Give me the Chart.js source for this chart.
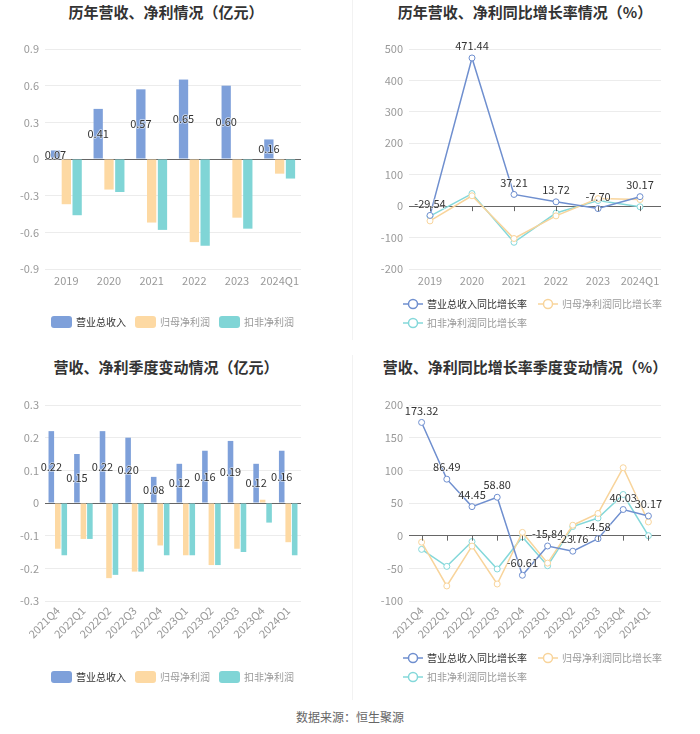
<!DOCTYPE html>
<html>
<head>
<meta charset="utf-8">
<script src="https://cdn.jsdelivr.net/npm/chart.js@4.4.1/dist/chart.umd.min.js"></script>
<style>
  body { margin: 0; background: #fff; font-family: "Noto Sans CJK SC", "Noto Sans", sans-serif; }
  #page { position: relative; width: 700px; height: 734px; overflow: hidden; }
  .title { position: absolute; font-size: 15px; font-weight: bold; color: #333; text-align: center; line-height: 20px; }
  .box { position: absolute; }
  .divider { position: absolute; left: 352px; width: 1px; background: #f2f2f2; }
  #source { position: absolute; left: 0; width: 700px; top: 708px; text-align: center; font-size: 12px; color: #666; }
</style>
</head>
<body>
<div id="page">
  <div class="divider" style="top:0;height:340px"></div>
  <div class="divider" style="top:355px;height:345px"></div>

  <div class="title" style="left:0;width:332px;top:2px">历年营收、净利情况（亿元）</div>
  <div class="title" style="left:350px;width:350px;top:2px">历年营收、净利同比增长率情况（%）</div>
  <div class="title" style="left:0;width:332px;top:357px">营收、净利季度变动情况（亿元）</div>
  <div class="title" style="left:350px;width:350px;top:357px">营收、净利同比增长率季度变动情况（%）</div>

  <div class="box" style="left:0;top:30px;width:345px;height:310px"><canvas id="yearBar"></canvas></div>
  <div class="box" style="left:350px;top:30px;width:350px;height:310px"><canvas id="yearLine"></canvas></div>
  <div class="box" style="left:0;top:390px;width:345px;height:310px"><canvas id="quarterBar"></canvas></div>
  <div class="box" style="left:350px;top:390px;width:350px;height:310px"><canvas id="quarterLine"></canvas></div>

  <div id="source">数据来源：恒生聚源</div>
</div>

<script>
// annual values (亿元)
const yearLabels = ['2019', '2020', '2021', '2022', '2023', '2024Q1'];
const yearRevenue = [0.07, 0.41, 0.57, 0.65, 0.60, 0.16];
const yearNetProfit = [-0.37, -0.25, -0.52, -0.68, -0.48, -0.12];
const yearDeductedProfit = [-0.46, -0.27, -0.58, -0.71, -0.57, -0.16];

// annual growth (%)
const yearRevenueGrowth = [-29.54, 471.44, 37.21, 13.72, -7.70, 30.17];
const yearNetProfitGrowth = [-47, 33, -103, -31, 24, 21];
const yearDeductedGrowth = [-32, 40, -115, -22, 18, -2];

// quarterly values (亿元)
const quarterLabels = ['2021Q4', '2022Q1', '2022Q2', '2022Q3', '2022Q4', '2023Q1', '2023Q2', '2023Q3', '2023Q4', '2024Q1'];
const quarterRevenue = [0.22, 0.15, 0.22, 0.20, 0.08, 0.12, 0.16, 0.19, 0.12, 0.16];
const quarterNetProfit = [-0.14, -0.11, -0.23, -0.21, -0.13, -0.16, -0.19, -0.14, 0.01, -0.12];
const quarterDeductedProfit = [-0.16, -0.11, -0.22, -0.21, -0.16, -0.16, -0.19, -0.15, -0.06, -0.16];

// quarterly growth (%)
const quarterRevenueGrowth = [173.32, 86.49, 44.45, 58.80, -60.61, -15.84, -23.76, -4.58, 40.03, 30.17];
const quarterNetProfitGrowth = [-10, -77, -16, -74, 5, -42, 16, 34, 104, 21];
const quarterDeductedGrowth = [-21, -47, -9, -51, -2, -46, 14, 27, 63, 0];

const FONT = '"Noto Sans CJK SC", "Noto Sans", sans-serif';
Chart.defaults.font.family = FONT;
Chart.defaults.animation = false;

const barColors = ['#7ea0da', '#fdd9a3', '#80d5d6'];
const lineColors = ['#6f8fcf', '#f8d49b', '#84d8da'];

// value labels on the first series
const valueLabels = {
  id: 'valueLabels',
  afterDatasetsDraw(chart, args, opts) {
    const ctx = chart.ctx;
    const ds = chart.data.datasets[0];
    const meta = chart.getDatasetMeta(0);
    ctx.save();
    ctx.font = '11px ' + FONT;
    ctx.textAlign = 'center';
    ctx.textBaseline = 'middle';
    ctx.lineJoin = 'round';
    meta.data.forEach((el, i) => {
      const txt = ds.data[i].toFixed(2);
      const y = opts.mode === 'inside' ? (el.y + el.base) / 2 : el.y - 12;
      ctx.strokeStyle = 'rgba(255,255,255,0.6)';
      ctx.lineWidth = 1.5;
      ctx.strokeText(txt, el.x, y);
      ctx.fillStyle = '#333';
      ctx.fillText(txt, el.x, y);
    });
    ctx.restore();
  }
};

// small ticks under the zero line (line charts)
const zeroTicks = {
  id: 'zeroTicks',
  afterDraw(chart, args, opts) {
    if (!opts.show) return;
    const ctx = chart.ctx;
    const x = chart.scales.x, y = chart.scales.y;
    const y0 = y.getPixelForValue(0);
    ctx.save();
    ctx.strokeStyle = '#666';
    ctx.lineWidth = 1;
    x.ticks.forEach((t, i) => {
      const px = Math.round(x.getPixelForTick(i)) + 0.5;
      ctx.beginPath();
      ctx.moveTo(px, y0);
      ctx.lineTo(px, y0 + 5);
      ctx.stroke();
    });
    ctx.restore();
  }
};

// legend drawn under the plot
const panelLegend = {
  id: 'panelLegend',
  afterDraw(chart, args, opts) {
    const ctx = chart.ctx;
    const area = chart.chartArea;
    ctx.save();
    ctx.font = '10px ' + FONT;
    ctx.textBaseline = 'middle';
    const iconW = opts.kind === 'bar' ? 21 : 20;
    const items = chart.data.datasets.map((ds, i) => ({
      text: ds.label,
      color: opts.colors[i],
      textColor: i === 0 ? '#333' : '#999',
      w: iconW + 4 + ctx.measureText(ds.label).width
    }));
    const gap = opts.kind === 'bar' ? 9 : 11;
    let rows = [[]], widths = [0];
    const startX = opts.kind === 'bar' ? 0 : area.left - 6;
    items.forEach(it => {
      let r = rows.length - 1;
      const add = (rows[r].length ? gap : 0) + it.w;
      if (rows[r].length && startX + widths[r] + add > chart.width - 4) {
        rows.push([]); widths.push(0); r++;
        widths[r] = it.w;
      } else {
        widths[r] += add;
      }
      rows[r].push(it);
    });
    rows.forEach((row, r) => {
      let x = opts.kind === 'bar' ? (chart.width - widths[r]) / 2 : startX;
      const y = area.bottom + opts.offset + r * 19;
      row.forEach(it => {
        if (opts.kind === 'bar') {
          ctx.fillStyle = it.color;
          ctx.beginPath();
          ctx.roundRect(x, y - 6, 21, 12, 3);
          ctx.fill();
        } else {
          ctx.strokeStyle = it.color;
          ctx.lineWidth = 1.5;
          ctx.beginPath();
          ctx.moveTo(x, y); ctx.lineTo(x + 20, y);
          ctx.stroke();
          ctx.fillStyle = '#fff';
          ctx.beginPath();
          ctx.arc(x + 10, y, 4.5, 0, Math.PI * 2);
          ctx.fill(); ctx.stroke();
        }
        ctx.fillStyle = it.textColor;
        ctx.textAlign = 'left';
        ctx.fillText(it.text, x + iconW + 4, y);
        x += it.w + gap;
      });
    });
    ctx.restore();
  }
};

function yAxis(min, max, step, width, decimals) {
  return {
    min: min, max: max,
    ticks: {
      stepSize: step, color: '#999', font: { size: 11 }, padding: 6,
      callback: v => String(Math.round(v * Math.pow(10, decimals)) / Math.pow(10, decimals))
    },
    grid: {
      drawTicks: false,
      color: c => Math.abs(c.tick.value) < 1e-9 ? '#666' : '#ececec'
    },
    border: { display: false },
    afterFit: s => { s.width = width; }
  };
}

function xAxis(rotate, height) {
  return {
    offset: true,
    grid: { display: false, drawTicks: false },
    border: { display: false },
    ticks: {
      color: '#999', font: { size: 11 }, padding: rotate ? 3 : 5, autoSkip: false,
      maxRotation: rotate ? 45 : 0, minRotation: rotate ? 45 : 0
    },
    afterFit: s => { s.height = height; }
  };
}

function barChart(id, labels, rev, net, ded, yMin, yMax, step, decimals, pad, legendOffset, rotate, xHeight) {
  const names = ['营业总收入', '归母净利润', '扣非净利润'];
  const series = [rev, net, ded];
  return new Chart(document.getElementById(id), {
    type: 'bar',
    data: {
      labels: labels,
      datasets: series.map((d, i) => ({
        label: names[i], data: d, backgroundColor: barColors[i],
        categoryPercentage: 0.76, barPercentage: 0.86
      }))
    },
    options: {
      responsive: true, maintainAspectRatio: false,
      layout: { padding: pad },
      scales: { x: xAxis(rotate, xHeight), y: yAxis(yMin, yMax, step, 45, decimals) },
      plugins: {
        legend: { display: false }, tooltip: { enabled: false },
        valueLabels: { mode: 'inside' },
        zeroTicks: { show: false },
        panelLegend: { kind: 'bar', colors: barColors, offset: legendOffset }
      }
    },
    plugins: [valueLabels, zeroTicks, panelLegend]
  });
}

function lineChart(id, labels, rev, net, ded, yMin, yMax, step, pad, legendOffset, rotate, xHeight) {
  const names = ['营业总收入同比增长率', '归母净利润同比增长率', '扣非净利润同比增长率'];
  const series = [rev, net, ded];
  return new Chart(document.getElementById(id), {
    type: 'line',
    data: {
      labels: labels,
      datasets: series.map((d, i) => ({
        label: names[i], data: d, borderColor: lineColors[i],
        backgroundColor: '#fff', pointBackgroundColor: '#fff',
        borderWidth: 1.5, pointRadius: 3, pointBorderWidth: 1, tension: 0
      }))
    },
    options: {
      responsive: true, maintainAspectRatio: false,
      layout: { padding: pad },
      scales: { x: xAxis(rotate, xHeight), y: yAxis(yMin, yMax, step, 59, 0) },
      plugins: {
        legend: { display: false }, tooltip: { enabled: false },
        valueLabels: { mode: 'top' },
        zeroTicks: { show: true },
        panelLegend: { kind: 'line', colors: lineColors, offset: legendOffset }
      }
    },
    plugins: [valueLabels, zeroTicks, panelLegend]
  });
}

barChart('yearBar', yearLabels, yearRevenue, yearNetProfit, yearDeductedProfit,
  -0.9, 0.9, 0.3, 1, { top: 19, right: 44, bottom: 49, left: 0 }, 53, false, 22);
lineChart('yearLine', yearLabels, yearRevenueGrowth, yearNetProfitGrowth, yearDeductedGrowth,
  -200, 500, 100, { top: 19, right: 39, bottom: 49, left: 0 }, 35, false, 22);
barChart('quarterBar', quarterLabels, quarterRevenue, quarterNetProfit, quarterDeductedProfit,
  -0.3, 0.3, 0.1, 1, { top: 15, right: 44, bottom: 54, left: 0 }, 76, true, 45);
lineChart('quarterLine', quarterLabels, quarterRevenueGrowth, quarterNetProfitGrowth, quarterDeductedGrowth,
  -100, 200, 50, { top: 15, right: 39, bottom: 54, left: 0 }, 57, true, 45);
</script>
</body>
</html>
